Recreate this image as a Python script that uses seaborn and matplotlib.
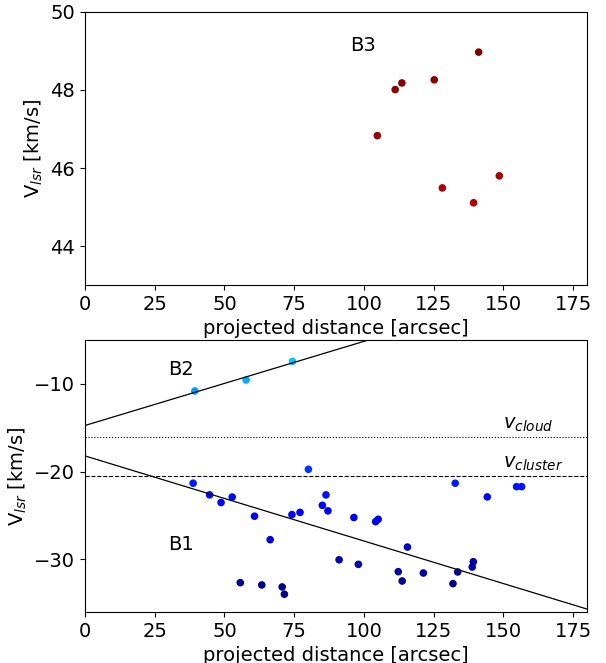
import numpy as np
import pandas as pd
import matplotlib
matplotlib.use("Agg")
import matplotlib.pyplot as plt
import seaborn as sns

# B3 (upper panel)
b3_dist = [104.8, 111.2, 113.6, 125.2, 141.1, 128.1, 139.3, 148.5]
b3_vlsr = [46.83, 48.01, 48.18, 48.26, 48.97, 45.49, 45.11, 45.80]

# B2 (lower panel, upper group)
b2_dist = [39.4, 57.8, 74.4]
b2_vlsr = [-10.8, -9.55, -7.43]

# B1 (lower panel, lower group)
b1_dist = [38.8, 44.7, 48.8, 52.8, 60.8, 66.4, 80.1, 74.2, 77.1, 85.1, 86.4, 87.1,
           96.4, 104.2, 105.1, 115.6, 132.7, 144.2, 154.7, 156.5,
           55.7, 63.4, 70.7, 71.5, 91.1, 98.0, 112.3, 113.7, 121.3, 131.9,
           133.6, 139.2, 138.8]
b1_vlsr = [-21.32, -22.65, -23.52, -22.9, -25.08, -27.76, -19.73, -24.9, -24.65, -23.84,
           -22.65, -24.47, -25.23, -25.7, -25.43, -28.6, -21.32, -22.88, -21.71, -21.71,
           -32.66, -32.92, -33.15, -33.98, -30.05, -30.57, -31.41, -32.47, -31.56, -32.77,
           -31.44, -30.27, -30.88]

# fitted gradients and reference velocities
b2_fit = (-14.74, 0.096)
b1_fit = (-18.2, -0.0971)
v_cloud = -16.0
v_cluster = -20.5

top = pd.DataFrame({"dist": b3_dist, "vlsr": b3_vlsr})
bottom = pd.DataFrame({"dist": b2_dist + b1_dist, "vlsr": b2_vlsr + b1_vlsr})

plt.rcParams["font.family"] = ["DejaVu Sans"]
plt.rcParams["font.size"] = 14

fig = plt.figure(figsize=(6.06, 6.63), dpi=100)
ax1 = fig.add_axes([0.140, 0.570, 0.829, 0.412])
ax2 = fig.add_axes([0.140, 0.077, 0.829, 0.410])

jet = matplotlib.colormaps["jet"]
norm = (-34, 49)
sns.scatterplot(data=top, x="dist", y="vlsr", hue="vlsr", palette=jet, hue_norm=norm,
                s=30, linewidth=0, legend=False, ax=ax1)
sns.scatterplot(data=bottom, x="dist", y="vlsr", hue="vlsr", palette=jet, hue_norm=norm,
                s=30, linewidth=0, legend=False, ax=ax2)

xx = np.array([0, 180])
ax2.plot(xx, b2_fit[0] + b2_fit[1] * xx, color="black", lw=0.9)
ax2.plot(xx, b1_fit[0] + b1_fit[1] * xx, color="black", lw=0.9)
ax2.axhline(v_cloud, color="black", ls=":", lw=0.8)
ax2.axhline(v_cluster, color="black", ls="--", lw=0.8)

ax1.text(95, 49.15, "B3", fontsize=14, va="center")
ax2.text(30, -8.3, "B2", fontsize=14, va="center")
ax2.text(30, -28.3, "B1", fontsize=14, va="center")
ax2.text(150, -14.6, "$v_{cloud}$", fontsize=14, va="center")
ax2.text(150, -19.1, "$v_{cluster}$", fontsize=14, va="center")

ax1.set_xlim(0, 180)
ax1.set_ylim(43, 50)
ax1.set_yticks([44, 46, 48, 50])
ax2.set_xlim(0, 180)
ax2.set_ylim(-36, -5)
ax2.set_yticks([-30, -20, -10])

for ax in (ax1, ax2):
    ax.set_xticks([0, 25, 50, 75, 100, 125, 150, 175])
    ax.set_xlabel("projected distance [arcsec]")
    ax.set_ylabel("V$_{lsr}$ [km/s]")

fig.savefig("out.png", dpi=100)
